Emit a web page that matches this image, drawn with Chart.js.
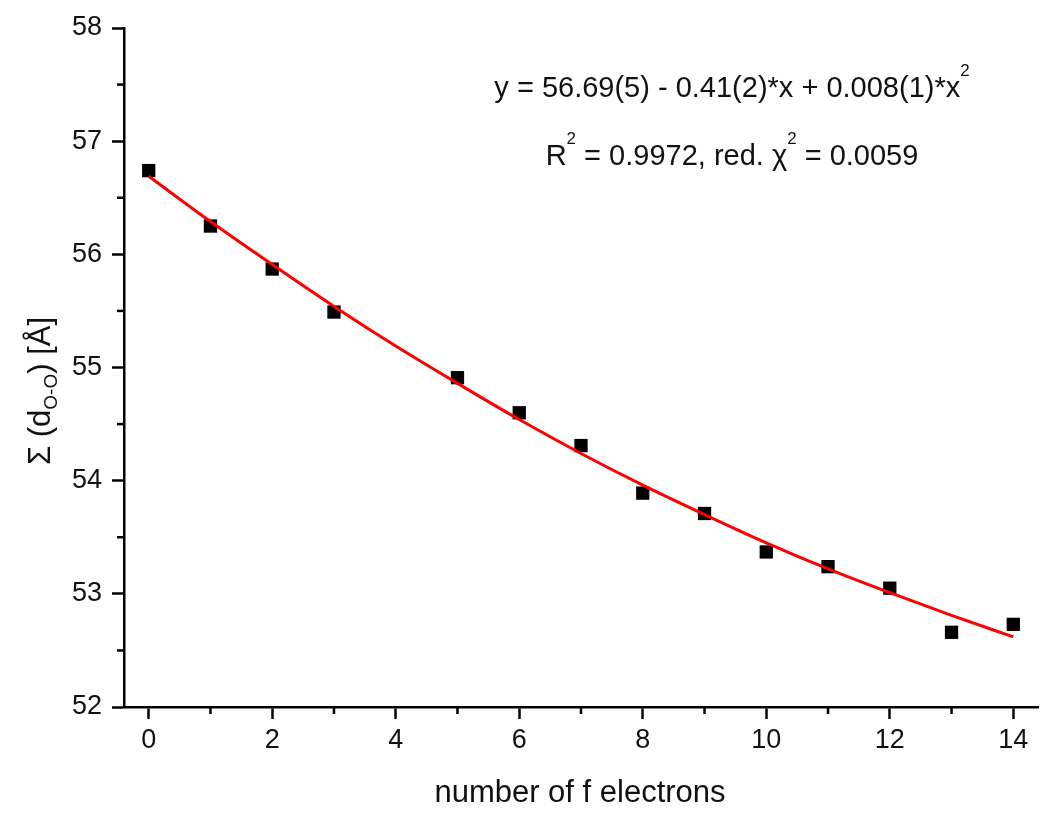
<!DOCTYPE html>
<html>
<head>
<meta charset="utf-8">
<script src="https://cdn.jsdelivr.net/npm/chart.js@4.4.1/dist/chart.umd.min.js"></script>
<style>
  html, body { margin: 0; padding: 0; background: #fff; }
  #wrap { width: 1050px; height: 815px; }
</style>
</head>
<body>
<div id="wrap"><canvas id="chart" width="1050" height="815"></canvas></div>
<script>
// measured points
const electrons = [0, 1, 2, 3, 5, 6, 7, 8, 9, 10, 11, 12, 13, 14];
const sumOO = [56.74, 56.25, 55.87, 55.49, 54.91, 54.60, 54.31, 53.89, 53.71, 53.37, 53.24, 53.05, 52.66, 52.73];

// fit curve at each integer
const fitX = [0, 1, 2, 3, 4, 5, 6, 7, 8, 9, 10, 11, 12, 13, 14];
const fitY = [56.69, 56.29, 55.91, 55.54, 55.19, 54.86, 54.54, 54.24, 53.96, 53.70, 53.45, 53.22, 53.01, 52.81, 52.62];

// axes
const xTicks = [0, 2, 4, 6, 8, 10, 12, 14];
const xMinorTicks = [1, 3, 5, 7, 9, 11, 13];
const yTicks = [52, 53, 54, 55, 56, 57, 58];
const yMinorTicks = [52.5, 53.5, 54.5, 55.5, 56.5, 57.5];

const FONT = "'Liberation Sans', Arial, sans-serif";

// draw a run of text pieces: [text, 'n' | 'sup' | 'sub']
function richWidth(ctx, parts, size) {
    let w = 0;
    parts.forEach(([t, k]) => {
        ctx.font = (k === 'n' ? size : Math.round(size * 0.6)) + 'px ' + FONT;
        w += ctx.measureText(t).width;
    });
    return w;
}

function drawRich(ctx, parts, x, y, size) {
    parts.forEach(([t, k]) => {
        const s = k === 'n' ? size : Math.round(size * 0.6);
        ctx.font = s + 'px ' + FONT;
        let dy = 0;
        if (k === 'sup') dy = -size * 0.72;
        if (k === 'sub') dy = size * 0.22;
        ctx.fillText(t, x, y + dy);
        x += ctx.measureText(t).width;
    });
}

const extras = {
    id: 'extras',
    afterDraw(chart) {
        const ctx = chart.ctx;
        const xs = chart.scales.x;
        const ys = chart.scales.y;

        ctx.save();
        // minor ticks
        ctx.strokeStyle = '#000';
        ctx.lineWidth = 2.5;
        xMinorTicks.forEach(v => {
            const px = xs.getPixelForValue(v);
            ctx.beginPath();
            ctx.moveTo(px, xs.top);
            ctx.lineTo(px, xs.top + 7);
            ctx.stroke();
        });
        yMinorTicks.forEach(v => {
            const py = ys.getPixelForValue(v);
            ctx.beginPath();
            ctx.moveTo(ys.right, py);
            ctx.lineTo(ys.right - 7, py);
            ctx.stroke();
        });

        ctx.fillStyle = '#111';
        ctx.textBaseline = 'alphabetic';
        ctx.textAlign = 'left';

        // x title
        ctx.font = '31px ' + FONT;
        ctx.textAlign = 'center';
        ctx.fillText('number of f electrons', 580, 802);
        ctx.textAlign = 'left';

        // fit equation
        const line1 = [['y = 56.69(5) - 0.41(2)*x + 0.008(1)*x', 'n'], ['2', 'sup']];
        const line2 = [['R', 'n'], ['2', 'sup'], [' = 0.9972, red. ', 'n'], ['\u03C7', 'n'], ['2', 'sup'], [' = 0.0059', 'n']];
        const eqSize = 29;
        drawRich(ctx, line1, 732 - richWidth(ctx, line1, eqSize) / 2, 97, eqSize);
        drawRich(ctx, line2, 732 - richWidth(ctx, line2, eqSize) / 2, 165, eqSize);

        // y title, rotated
        const yTitle = [['\u03A3 (d', 'n'], ['O-O', 'sub'], [') [\u00C5]', 'n']];
        const ySize = 31;
        ctx.translate(50, 391);
        ctx.rotate(-Math.PI / 2);
        drawRich(ctx, yTitle, -richWidth(ctx, yTitle, ySize) / 2, 0, ySize);
        ctx.restore();
    }
};

const axisStyle = {
    grid: { drawOnChartArea: false, drawTicks: true, tickLength: 12, tickWidth: 2.5, tickColor: '#000' },
    border: { display: true, color: '#000', width: 2.5 },
};

new Chart(document.getElementById('chart'), {
    type: 'scatter',
    data: {
        datasets: [
            {
                label: 'fit',
                type: 'line',
                data: fitX.map((v, i) => ({ x: v, y: fitY[i] })),
                borderColor: '#ff0000',
                borderWidth: 3,
                pointRadius: 0,
                cubicInterpolationMode: 'monotone',
                fill: false,
                order: 0
            },
            {
                label: 'data',
                data: electrons.map((v, i) => ({ x: v, y: sumOO[i] })),
                pointStyle: 'rect',
                pointRadius: 9.4,
                backgroundColor: '#000',
                borderWidth: 0,
                order: 1
            }
        ]
    },
    options: {
        responsive: false,
        animation: false,
        layout: { padding: { top: 28, right: 12, left: 0, bottom: 0 } },
        plugins: { legend: { display: false }, tooltip: { enabled: false } },
        scales: {
            x: {
                type: 'linear',
                min: -0.4,
                max: 14.4,
                afterBuildTicks: s => { s.ticks = xTicks.map(v => ({ value: v })); },
                afterFit: s => { s.height = 108; },
                ...axisStyle,
                ticks: { font: { family: FONT, size: 27 }, color: '#111', padding: 5, maxRotation: 0 }
            },
            y: {
                type: 'linear',
                min: 52,
                max: 58,
                afterBuildTicks: s => { s.ticks = yTicks.map(v => ({ value: v })); },
                afterFit: s => { s.width = 124; },
                ...axisStyle,
                ticks: { font: { family: FONT, size: 27 }, color: '#111', padding: 10 }
            }
        }
    },
    plugins: [extras]
});
</script>
</body>
</html>
